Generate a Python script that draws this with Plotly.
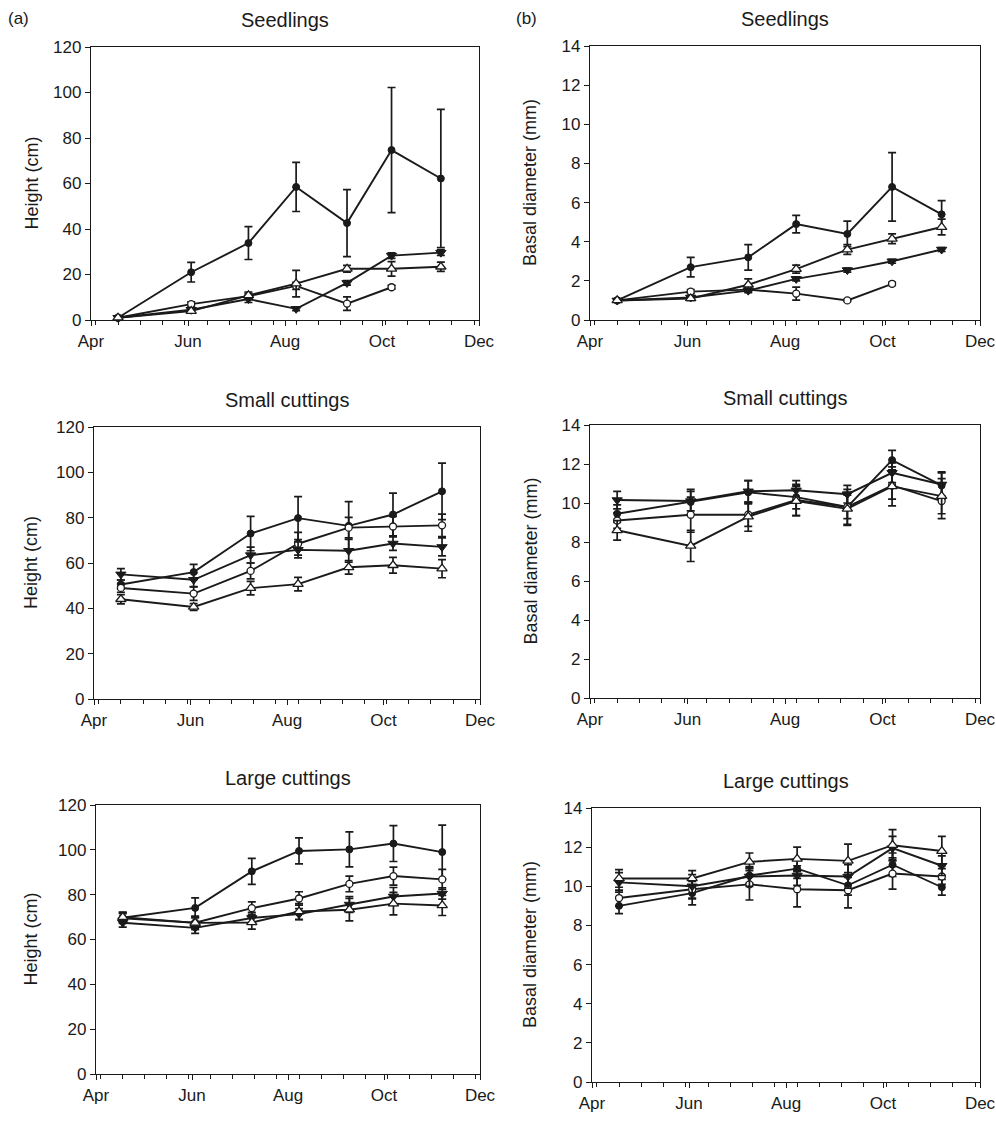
import plotly.graph_objects as go

# ---------------- data ----------------
dates = ["2009-04-18", "2009-06-03", "2009-07-09", "2009-08-08",
         "2009-09-09", "2009-10-07", "2009-11-07"]
month_ticks = ["2009-04-01", "2009-06-01", "2009-08-01", "2009-10-01", "2009-12-01"]
month_labels = ["Apr", "Jun", "Aug", "Oct", "Dec"]

panel_titles = ["Seedlings", "Seedlings", "Small cuttings", "Small cuttings",
                "Large cuttings", "Large cuttings"]
height_ticks = [0, 20, 40, 60, 80, 100, 120]
diam_ticks = [0, 2, 4, 6, 8, 10, 12, 14]

# Seedlings – height (cm)
h_seed_fcirc = [1.0, 21.0, 33.8, 58.5, 42.6, 74.7, 62.2]
h_seed_fcirc_err = [0.5, 4.3, 7.2, 10.8, 14.7, 27.5, 30.4]
h_seed_ocirc = [1.0, 7.0, 10.5, 15.0, 7.2, 14.4, None]
h_seed_ocirc_err = [0.3, 1.0, 1.2, 1.5, 3.0, 0.8, None]
h_seed_ftri = [1.0, 4.5, 9.2, 4.9, 16.3, 28.3, 29.6]
h_seed_ftri_err = [0.3, 0.8, 1.5, 0.8, 1.0, 1.2, 1.2]
h_seed_otri = [1.0, 3.9, 10.8, 16.0, 22.5, 22.5, 23.4]
h_seed_otri_err = [0.3, 0.8, 1.5, 5.8, 1.5, 3.2, 2.0]

# Seedlings – basal diameter (mm)
d_seed_fcirc = [1.0, 2.7, 3.2, 4.9, 4.4, 6.8, 5.4]
d_seed_fcirc_err = [0.05, 0.5, 0.65, 0.45, 0.65, 1.75, 0.7]
d_seed_ocirc = [1.0, 1.45, 1.55, 1.35, 1.0, 1.85, None]
d_seed_ocirc_err = [0.05, 0.1, 0.1, 0.33, 0.05, 0.08, None]
d_seed_ftri = [1.0, 1.15, 1.5, 2.1, 2.55, 3.0, 3.6]
d_seed_ftri_err = [0.05, 0.08, 0.1, 0.1, 0.1, 0.1, 0.1]
d_seed_otri = [1.0, 1.1, 1.8, 2.6, 3.6, 4.15, 4.75]
d_seed_otri_err = [0.05, 0.1, 0.3, 0.2, 0.25, 0.25, 0.4]

# Small cuttings – height (cm)
h_small_fcirc = [50.5, 56.0, 73.0, 79.8, 76.4, 81.4, 91.6]
h_small_fcirc_err = [2.0, 3.4, 7.6, 9.5, 10.7, 9.4, 12.5]
h_small_ocirc = [49.0, 46.5, 56.5, 68.5, 75.6, 76.1, 76.6]
h_small_ocirc_err = [2.0, 3.0, 3.5, 5.0, 4.5, 4.5, 5.0]
h_small_ftri = [55.0, 52.6, 63.5, 65.8, 65.4, 68.6, 67.1]
h_small_ftri_err = [2.5, 3.0, 3.5, 3.5, 5.0, 3.0, 4.0]
h_small_otri = [44.0, 40.6, 48.9, 50.7, 58.1, 59.0, 57.5]
h_small_otri_err = [2.0, 1.5, 3.0, 3.0, 3.0, 3.5, 4.0]

# Small cuttings – basal diameter (mm)
d_small_fcirc = [9.45, 10.05, 10.55, 10.3, 9.8, 12.2, 10.9]
d_small_fcirc_err = [0.45, 0.65, 0.6, 0.6, 0.6, 0.5, 0.7]
d_small_ocirc = [9.1, 9.4, 9.4, 10.15, 9.8, 10.9, 10.1]
d_small_ocirc_err = [0.4, 0.9, 0.6, 0.8, 0.9, 0.7, 0.9]
d_small_ftri = [10.15, 10.1, 10.6, 10.65, 10.45, 11.55, 10.95]
d_small_ftri_err = [0.45, 0.5, 0.55, 0.5, 0.45, 0.5, 0.6]
d_small_otri = [8.6, 7.8, 9.3, 10.1, 9.7, 10.85, 10.35]
d_small_otri_err = [0.5, 0.8, 0.75, 0.75, 0.85, 1.0, 0.9]

# Large cuttings – height (cm)
h_large_fcirc = [69.7, 74.1, 90.4, 99.5, 100.2, 102.8, 99.0]
h_large_fcirc_err = [2.5, 4.5, 5.8, 5.8, 7.8, 8.0, 12.0]
h_large_ocirc = [69.5, 67.5, 74.0, 78.3, 84.8, 88.3, 86.8]
h_large_ocirc_err = [2.0, 2.5, 2.8, 3.0, 3.5, 4.0, 4.5]
h_large_ftri = [67.5, 65.2, 69.6, 71.3, 75.6, 79.2, 80.5]
h_large_ftri_err = [2.0, 2.5, 2.5, 2.5, 3.5, 4.0, 2.5]
h_large_otri = [70.0, 67.4, 67.6, 72.5, 73.3, 76.0, 75.2]
h_large_otri_err = [2.0, 3.0, 3.0, 3.5, 5.0, 5.0, 4.5]

# Large cuttings – basal diameter (mm)
d_large_fcirc = [9.0, 9.65, 10.55, 10.9, 10.05, 11.1, 9.95]
d_large_fcirc_err = [0.4, 0.6, 0.4, 0.5, 0.5, 0.6, 0.4]
d_large_ocirc = [9.4, 9.85, 10.1, 9.85, 9.8, 10.65, 10.5]
d_large_ocirc_err = [0.4, 0.5, 0.8, 0.9, 0.9, 0.8, 0.4]
d_large_ftri = [10.2, 10.0, 10.5, 10.55, 10.5, 11.95, 11.05]
d_large_ftri_err = [0.5, 0.6, 0.5, 0.5, 0.6, 0.6, 0.5]
d_large_otri = [10.4, 10.4, 11.25, 11.4, 11.3, 12.1, 11.8]
d_large_otri_err = [0.45, 0.4, 0.45, 0.6, 0.85, 0.8, 0.75]

# ---------------- layout geometry ----------------
W, H = 996, 1121
FONT = "Liberation Sans, Arial, sans-serif"
INK = "#1a1a1a"

# (left, right, top, bottom) in pixels for each panel
boxes = [
    (91, 479, 47, 320), (590, 980, 46, 320),
    (94, 480, 427, 699), (590, 980, 425, 698),
    (96, 480, 805, 1074), (592, 980, 808, 1082),
]

panels = [
    [(h_seed_fcirc, h_seed_fcirc_err), (h_seed_ocirc, h_seed_ocirc_err),
     (h_seed_ftri, h_seed_ftri_err), (h_seed_otri, h_seed_otri_err)],
    [(d_seed_fcirc, d_seed_fcirc_err), (d_seed_ocirc, d_seed_ocirc_err),
     (d_seed_ftri, d_seed_ftri_err), (d_seed_otri, d_seed_otri_err)],
    [(h_small_fcirc, h_small_fcirc_err), (h_small_ocirc, h_small_ocirc_err),
     (h_small_ftri, h_small_ftri_err), (h_small_otri, h_small_otri_err)],
    [(d_small_fcirc, d_small_fcirc_err), (d_small_ocirc, d_small_ocirc_err),
     (d_small_ftri, d_small_ftri_err), (d_small_otri, d_small_otri_err)],
    [(h_large_fcirc, h_large_fcirc_err), (h_large_ocirc, h_large_ocirc_err),
     (h_large_ftri, h_large_ftri_err), (h_large_otri, h_large_otri_err)],
    [(d_large_fcirc, d_large_fcirc_err), (d_large_ocirc, d_large_ocirc_err),
     (d_large_ftri, d_large_ftri_err), (d_large_otri, d_large_otri_err)],
]

marker_styles = [
    dict(symbol="circle", size=7, color=INK, line=dict(color=INK, width=1)),
    dict(symbol="circle", size=7, color="white", line=dict(color=INK, width=1.3)),
    dict(symbol="triangle-down", size=9, color=INK, line=dict(color=INK, width=1)),
    dict(symbol="triangle-up", size=9, color="white", line=dict(color=INK, width=1.3)),
]

fig = go.Figure()
layout = dict(
    width=W, height=H, margin=dict(l=0, r=0, t=0, b=0, autoexpand=False),
    paper_bgcolor="white", plot_bgcolor="white", showlegend=False,
    font=dict(family=FONT, color=INK, size=17),
)
annotations = []

for i, (box, series) in enumerate(zip(boxes, panels)):
    n = i + 1
    xa = "x" if n == 1 else f"x{n}"
    ya = "y" if n == 1 else f"y{n}"
    l, r, t, b = box
    is_height = (i % 2 == 0)
    for (vals, errs), ms in zip(series, marker_styles):
        fig.add_trace(go.Scatter(
            x=dates, y=vals, xaxis=xa, yaxis=ya, mode="lines+markers",
            line=dict(color=INK, width=1.9), marker=ms,
            error_y=dict(type="data", array=errs, visible=True,
                         color=INK, thickness=1.7, width=4),
            connectgaps=False, cliponaxis=False,
        ))
    xkey = "xaxis" if n == 1 else f"xaxis{n}"
    ykey = "yaxis" if n == 1 else f"yaxis{n}"
    layout[xkey] = dict(
        domain=[l / W, r / W], anchor=ya, type="date",
        range=["2009-04-01", "2009-12-01"],
        tickmode="array", tickvals=month_ticks, ticktext=month_labels,
        ticks="outside", ticklen=5, tickwidth=1.2, tickcolor=INK,
        minor=dict(ticks="outside", ticklen=4, tickwidth=1, tickcolor=INK,
                   dtick=14 * 86400000, tick0="2009-04-04", showgrid=False),
        showline=True, linecolor=INK, linewidth=1.4, mirror=True,
        showgrid=False, zeroline=False,
        tickfont=dict(size=17, family=FONT, color=INK),
    )
    layout[ykey] = dict(
        domain=[1 - b / H, 1 - t / H], anchor=xa,
        range=[0, 120] if is_height else [0, 14],
        tickmode="array", tickvals=height_ticks if is_height else diam_ticks,
        ticks="outside", ticklen=5, tickwidth=1.2, tickcolor=INK,
        showline=True, linecolor=INK, linewidth=1.4, mirror=True,
        showgrid=False, zeroline=False,
        tickfont=dict(size=17, family=FONT, color=INK),
    )
    # panel title
    annotations.append(dict(
        text=panel_titles[i], xref="paper", yref="paper",
        x=(l + r) / 2 / W, y=1 - (t - 27) / H, xanchor="center", yanchor="middle",
        showarrow=False, font=dict(size=20, family=FONT, color=INK)))
    # y axis title
    annotations.append(dict(
        text="Height (cm)" if is_height else "Basal diameter (mm)",
        xref="paper", yref="paper",
        x=(31 if is_height else 530) / W, y=1 - (t + b) / 2 / H,
        xanchor="center", yanchor="middle", textangle=-90,
        showarrow=False, font=dict(size=18, family=FONT, color=INK)))

annotations.append(dict(text="(a)", xref="paper", yref="paper", x=18 / W, y=1 - 18 / H,
                        xanchor="center", yanchor="middle", showarrow=False,
                        font=dict(size=17, family=FONT, color=INK)))
annotations.append(dict(text="(b)", xref="paper", yref="paper", x=526 / W, y=1 - 18 / H,
                        xanchor="center", yanchor="middle", showarrow=False,
                        font=dict(size=17, family=FONT, color=INK)))
layout["annotations"] = annotations
fig.update_layout(**layout)

fig.write_html(
    "out.html",
    post_script="document.body.style.margin='0';document.body.style.padding='0';"
                "document.body.style.overflow='hidden';"
                "document.documentElement.style.overflow='hidden';",
)
